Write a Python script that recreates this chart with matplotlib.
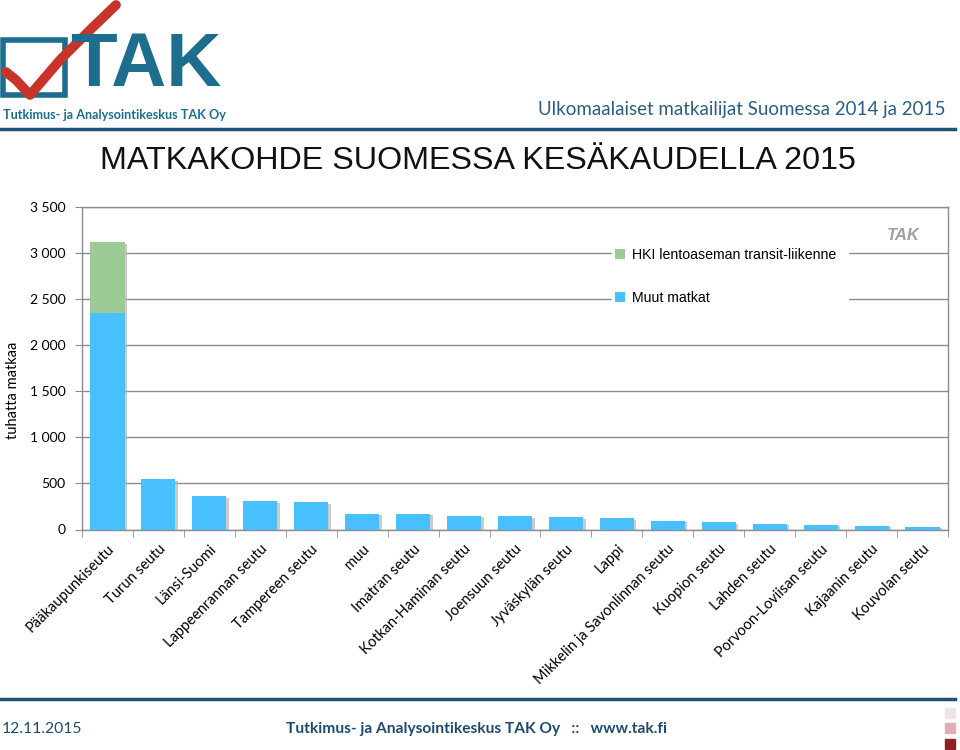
import matplotlib
matplotlib.use("Agg")
import matplotlib.pyplot as plt
import matplotlib.transforms as mtransforms
from matplotlib.lines import Line2D
from matplotlib.patches import Rectangle
from matplotlib.ticker import FuncFormatter, MultipleLocator, FixedLocator
import numpy as np

categories = ["Pääkaupunkiseutu", "Turun seutu", "Länsi-Suomi", "Lappeenrannan seutu",
              "Tampereen seutu", "muu", "Imatran seutu", "Kotkan-Haminan seutu",
              "Joensuun seutu", "Jyväskylän seutu", "Lappi", "Mikkelin ja Savonlinnan seutu",
              "Kuopion seutu", "Lahden seutu", "Porvoon-Loviisan seutu", "Kajaanin seutu",
              "Kouvolan seutu"]
muut_matkat = [2345, 545, 363, 309, 298, 173, 170, 148, 145, 133, 123, 94, 80, 65, 49, 39, 30]
hki_transit = [770, 0, 0, 0, 0, 0, 0, 0, 0, 0, 0, 0, 0, 0, 0, 0, 0]

W, H = 960, 750
fig = plt.figure(figsize=(9.6, 7.5), dpi=100)
fig.patch.set_facecolor("white")

def px(x, y):
    return x / W, 1 - y / H

ui_font = "Lato"
teal = "#1d6e8e"
dark = "#1f4a6e"

# axes
ax = fig.add_axes([82 / W, 1 - 529.5 / H, 866 / W, 322.5 / H])
x = np.arange(len(categories))
totals = np.array(muut_matkat) + np.array(hki_transit)
shadow_tr = mtransforms.offset_copy(ax.transData, fig=fig, x=2.5, y=-1.5, units="dots")
ax.bar(x, totals, width=0.67, color="#b5b5b5", alpha=0.7, zorder=2, transform=shadow_tr)
b1 = ax.bar(x, muut_matkat, width=0.67, color="#47c0fd", label="Muut matkat", zorder=3)
b2 = ax.bar(x, hki_transit, width=0.67, bottom=muut_matkat, color="#9bca94",
            label="HKI lentoaseman transit-liikenne", zorder=3)

ax.set_xlim(-0.5, len(categories) - 0.5)
ax.set_ylim(0, 3500)
ax.yaxis.set_major_locator(MultipleLocator(500))
ax.yaxis.set_major_formatter(FuncFormatter(lambda v, p: f"{int(v):,}".replace(",", " ")))
ax.grid(axis="y", color="#8c8c8c", lw=1, zorder=0)
for s in ax.spines.values():
    s.set_color("#8c8c8c")
    s.set_linewidth(1)
ax.set_xticks(x)
ax.set_xticklabels(categories, rotation=45, ha="right", rotation_mode="anchor",
                   fontsize=10.5, family=ui_font)
ax.xaxis.set_minor_locator(FixedLocator(np.arange(-0.5, len(categories), 1)))
ax.tick_params(axis="x", which="major", length=0, pad=9)
ax.tick_params(axis="x", which="minor", length=5, color="#8c8c8c")
ax.tick_params(axis="y", length=5, color="#8c8c8c", labelsize=10, pad=7)
for t in ax.get_yticklabels():
    t.set_family(ui_font)
ax.set_ylabel("tuhatta matkaa", fontsize=10.5, family=ui_font)
ax.yaxis.set_label_coords(-0.0716, 0.433)

leg = ax.legend(handles=[b2, b1], loc="upper left",
                bbox_to_anchor=(0.612, 0.62, 0.273, 0.262), mode="expand",
                frameon=True, fancybox=False, edgecolor="white", framealpha=1,
                labelspacing=2.05, handlelength=0.7, handleheight=0.7, handletextpad=0.5,
                borderaxespad=0, borderpad=0.2, prop={"family": "Liberation Sans", "size": 10.2})
leg.set_zorder(5)

# small logo in chart
fig.text(*px(903, 236), "TAK", color="#a0a0a0", fontsize=12, fontweight="bold",
         style="italic", family="Liberation Sans", ha="center", va="center")

# title
fig.text(*px(478, 161), "MATKAKOHDE SUOMESSA KESÄKAUDELLA 2015", fontsize=23.2,
         family="Liberation Sans", color="#111111", ha="center", va="center")

# header
fig.text(*px(945, 110), "Ulkomaalaiset matkailijat Suomessa 2014 ja 2015", fontsize=13.5,
         family=ui_font, color="#2a5f82", ha="right", va="center")
fig.add_artist(Line2D([0, 955 / W], [1 - 129 / H] * 2, color="#1f5273", lw=2.5))

# main logo
fig.add_artist(Rectangle(px(3, 95), 62 / W, 55 / H, fill=False, edgecolor=teal, lw=4))
fig.text(*px(146, 67), "TAK", fontsize=55, fontweight="bold", family="Liberation Sans",
         color=teal, ha="center", va="center")
xs = [6, 16, 30, 60, 90, 116]
ys = [72, 80, 95, 60, 30, 5]
fig.add_artist(Line2D([v / W for v in xs], [1 - v / H for v in ys], color="#c8332a",
                      lw=7, solid_capstyle="round", solid_joinstyle="round"))
fig.text(*px(3, 115), "Tutkimus- ja Analysointikeskus TAK Oy", fontsize=9.1,
         fontweight="bold", family=ui_font, color=teal, ha="left", va="center")

# footer
fig.add_artist(Line2D([0, 955 / W], [1 - 699 / H] * 2, color="#1f5273", lw=2.5))
fig.text(*px(2, 729), "12.11.2015", fontsize=11.3, family=ui_font, color=dark,
         ha="left", va="center")
fig.text(*px(667, 729), "Tutkimus- ja Analysointikeskus TAK Oy   ::   www.tak.fi", fontsize=11.2,
         fontweight="bold", family=ui_font, color=dark, ha="right", va="center")
for yy, c in [(708, "#f2e4e6"), (723, "#deb0b3"), (739, "#8e2126")]:
    fig.add_artist(Rectangle(px(945, yy + 10), 10 / W, 10 / H, color=c))

fig.savefig("out.png", dpi=100, facecolor="white")
